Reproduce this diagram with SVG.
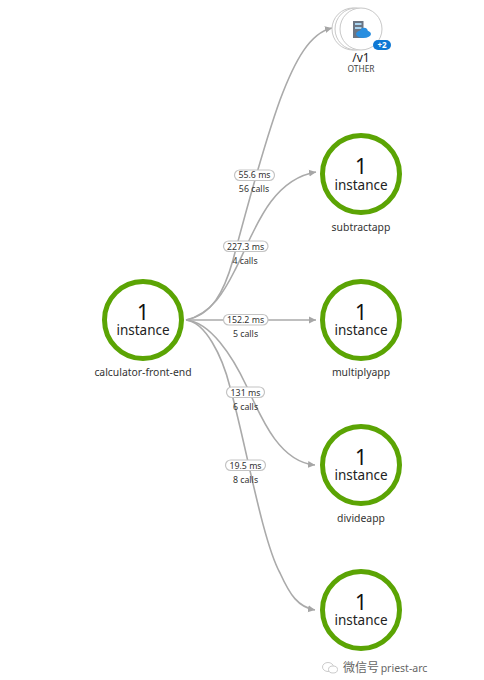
<svg xmlns="http://www.w3.org/2000/svg" width="484" height="680" viewBox="0 0 484 680">
<style>
text{font-family:"Noto Sans","Open Sans","Noto Sans CJK SC",sans-serif;text-anchor:middle;fill:#222}
.ring{fill:#fff;stroke:#5ba404;stroke-width:5}
.num{font-size:21px;fill:#111}
.inst{font-size:13.5px;fill:#222}
.name{font-size:10.4px;fill:#333}
.edge{fill:none;stroke:#aaa;stroke-width:1.6;marker-end:url(#arrow)}
.pill{fill:#fff;stroke:#c4c4c4;stroke-width:1.2}
.ms{font-size:8.8px;fill:#333}
.calls{font-size:8.8px;fill:#333}
.stack{fill:#fff;stroke:#c8c8c8;stroke-width:1}
.bubble{fill:#fff;stroke:#ccc;stroke-width:1}
</style>
<defs>
<marker id="arrow" markerUnits="userSpaceOnUse" markerWidth="8" markerHeight="8" refX="7" refY="4" orient="auto"><path d="M0 0.5L7 4L0 7.5Z" fill="#a6a6a6"/></marker>
</defs>
<rect width="484" height="680" fill="#fff"/>
<g id="connectors">
<path class="edge" d="M186 320C212 315 224 292 233 260C245 215 262 150 280 100C295 60 310 33 332 28"/>
<path class="edge" d="M186 320C212 314 225 290 235 270C252 238 268 180 316 172"/>
<path class="edge" d="M186 320H316"/>
<path class="edge" d="M186 320C210 322 232 355 247 387C262 420 280 462 315 465"/>
<path class="edge" d="M186 320C205 322 222 355 230 387C245 440 262 540 280 573C290 595 298 607 315 610"/>
</g>
<g id="edge-labels">
<rect class="pill" x="234.500" y="170" width="40" height="10.500" rx="5.200"/><text class="ms" x="254.500" y="178">55.6 ms</text><text class="calls" x="254" y="192">56 calls</text>
<rect class="pill" x="223.500" y="241" width="44.500" height="10.500" rx="5.200"/><text class="ms" x="245.500" y="249.500">227.3 ms</text><text class="calls" x="245" y="264">4 calls</text>
<rect class="pill" x="223.500" y="314.500" width="44.500" height="10.500" rx="5.200"/><text class="ms" x="245.500" y="323">152.2 ms</text><text class="calls" x="245.500" y="337">5 calls</text>
<rect class="pill" x="226.500" y="387" width="38" height="10.500" rx="5.200"/><text class="ms" x="245.500" y="395.500">131 ms</text><text class="calls" x="245.500" y="410">6 calls</text>
<rect class="pill" x="225.500" y="460" width="40" height="10.500" rx="5.200"/><text class="ms" x="245.500" y="468.500">19.5 ms</text><text class="calls" x="245.500" y="483">8 calls</text>
</g>
<g id="node-v1">
<circle class="stack" cx="353" cy="29" r="21"/><circle class="stack" cx="356" cy="29" r="21"/><circle class="stack" cx="361" cy="29" r="21"/>
<rect x="353" y="21" width="10.500" height="17" fill="#6b7583"/>
<rect x="355" y="23" width="6.500" height="2" fill="#a9d4f0"/><rect x="355" y="27" width="6.500" height="2" fill="#a9d4f0"/>
<ellipse cx="363.500" cy="34" rx="7.500" ry="4" fill="#2a8fe0"/><circle cx="364" cy="31.500" r="3.800" fill="#2a8fe0"/>
<rect x="373" y="40" width="18" height="10" rx="5" fill="#0f78d4"/>
<text x="382" y="48" style="font-size:8px;font-weight:700;fill:#fff">+2</text>
<text x="361" y="62" style="font-size:12px;fill:#222">/v1</text>
<text x="361" y="71.500" style="font-size:8.400px;fill:#444">OTHER</text>
</g>
<g id="node-calculator-front-end"><circle class="ring" cx="143" cy="320" r="38.500"/><text class="num" x="143" y="320">1</text><text class="inst" x="143" y="334.500">instance</text><text class="name" x="143" y="376">calculator-front-end</text></g>
<g id="node-subtractapp"><circle class="ring" cx="361" cy="174" r="38.500"/><text class="num" x="361" y="174">1</text><text class="inst" x="361" y="189.500">instance</text><text class="name" x="361" y="231">subtractapp</text></g>
<g id="node-multiplyapp"><circle class="ring" cx="361" cy="320" r="38.500"/><text class="num" x="361" y="320">1</text><text class="inst" x="361" y="334.500">instance</text><text class="name" x="361" y="376">multiplyapp</text></g>
<g id="node-divideapp"><circle class="ring" cx="361" cy="465" r="38.500"/><text class="num" x="361" y="465">1</text><text class="inst" x="361" y="479.500">instance</text><text class="name" x="361" y="522">divideapp</text></g>
<g id="node-bottom"><circle class="ring" cx="361" cy="610" r="38.500"/><text class="num" x="361" y="610">1</text><text class="inst" x="361" y="625">instance</text></g>
<g id="watermark">
<ellipse class="bubble" cx="328" cy="667" rx="5.500" ry="4.500"/><ellipse class="bubble" cx="333" cy="669.500" rx="4.500" ry="3.500"/>
<text x="361" y="672" style="font-size:12px;fill:#666">微信号</text><text x="404" y="672" style="font-size:10.500px;fill:#666">priest-arc</text></g>
</svg>
